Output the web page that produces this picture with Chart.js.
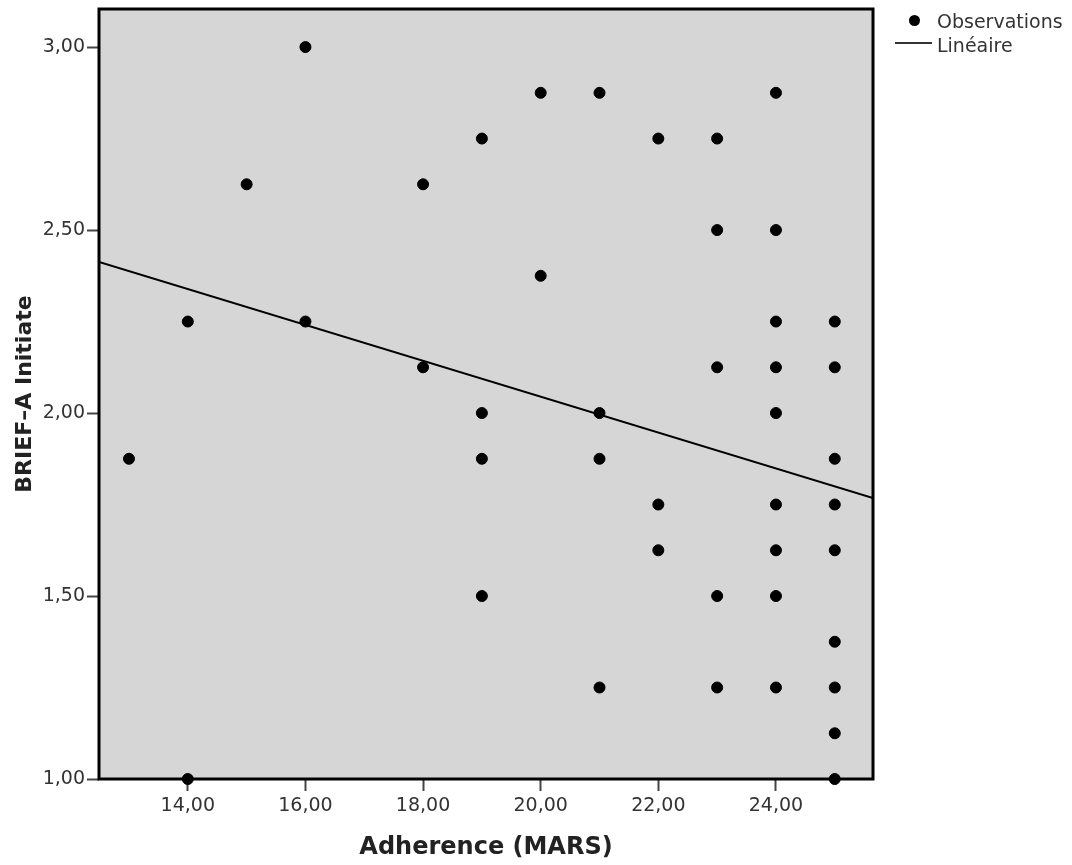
<!DOCTYPE html>
<html>
<head>
<meta charset="utf-8">
<script src="https://cdn.jsdelivr.net/npm/chart.js@4/dist/chart.umd.min.js"></script>
<style>
  body { margin: 0; background: #fff; }
  #wrap { position: relative; width: 1072px; height: 865px; }
  .lg { position: absolute; font-family: "DejaVu Sans", sans-serif; font-size: 19px; color: #333; line-height: 20px; }
</style>
</head>
<body>
<div id="wrap">
  <canvas id="scatterChart"></canvas>
  <div style="position:absolute;left:909px;top:15px;width:11px;height:11px;border-radius:50%;background:#000"></div>
  <div class="lg" style="left:937px;top:11px">Observations</div>
  <div style="position:absolute;left:895px;top:42px;width:37px;height:2px;background:#333"></div>
  <div class="lg" style="left:937px;top:35px">Linéaire</div>
</div>
<script>
// observations (x = MARS score, y = BRIEF-A Initiate)
const obsX = [13, 14, 14, 15, 16, 16, 18, 18, 19, 19, 19, 19, 20, 20,
  21, 21, 21, 21, 22, 22, 22, 23, 23, 23, 23, 23,
  24, 24, 24, 24, 24, 24, 24, 24, 24,
  25, 25, 25, 25, 25, 25, 25, 25, 25];
const obsY = [1.875, 2.25, 1.00, 2.625, 3.00, 2.25, 2.625, 2.125, 2.75, 2.00, 1.875, 1.50, 2.875, 2.375,
  2.875, 2.00, 1.875, 1.25, 2.75, 1.75, 1.625, 2.75, 2.50, 2.125, 1.50, 1.25,
  2.875, 2.50, 2.25, 2.125, 2.00, 1.75, 1.625, 1.50, 1.25,
  2.25, 2.125, 1.875, 1.75, 1.625, 1.375, 1.25, 1.125, 1.00];

// fitted line, ends read at the plot edges
const fitX = [12.49, 25.65];
const fitY = [2.413, 1.768];

const xTicks = [14, 16, 18, 20, 22, 24];
const yTicks = [1.0, 1.5, 2.0, 2.5, 3.0];

const fmt = v => Number(v).toFixed(2).replace('.', ',');

// gray background and frame around the plot area
const framePlugin = {
  id: 'frame',
  beforeDatasetsDraw(chart) {
    const { ctx, chartArea: a } = chart;
    ctx.save();
    ctx.fillStyle = '#d6d6d6';
    ctx.fillRect(a.left, a.top, a.right - a.left, a.bottom - a.top);
    ctx.strokeStyle = '#000';
    ctx.lineWidth = 3;
    ctx.strokeRect(a.left, a.top, a.right - a.left, a.bottom - a.top);
    ctx.restore();
  }
};

new Chart(document.getElementById('scatterChart'), {
  type: 'scatter',
  data: {
    datasets: [
      {
        label: 'Observations',
        data: obsX.map((x, i) => ({ x: x, y: obsY[i] })),
        backgroundColor: '#000',
        borderColor: '#000',
        pointRadius: 5.5,
        pointHoverRadius: 5.5,
        clip: false
      },
      {
        label: 'Linéaire',
        type: 'line',
        data: fitX.map((x, i) => ({ x: x, y: fitY[i] })),
        borderColor: '#000',
        borderWidth: 2,
        pointRadius: 0,
        fill: false
      }
    ]
  },
  options: {
    responsive: true,
    maintainAspectRatio: false,
    animation: false,
    layout: { padding: { left: 0, right: 199, top: 9, bottom: 0 } },
    plugins: { legend: { display: false }, tooltip: { enabled: false } },
    scales: {
      x: {
        type: 'linear',
        min: 12.49,
        max: 25.65,
        afterBuildTicks: s => { s.ticks = xTicks.map(v => ({ value: v })); },
        afterFit: s => { s.height = 86; s.paddingLeft = 0; s.paddingRight = 0; },
        grid: { drawOnChartArea: false, drawTicks: true, tickLength: 12, tickColor: '#444', tickWidth: 2 },
        border: { display: false },
        ticks: { callback: fmt, color: '#333', padding: 4, font: { family: 'DejaVu Sans', size: 19 } },
        title: {
          display: true,
          text: 'Adherence (MARS)',
          color: '#222',
          padding: { top: 0, bottom: 3 },
          font: { family: 'DejaVu Sans', size: 24, weight: 'bold' }
        }
      },
      y: {
        min: 1.0,
        max: 3.104,
        afterBuildTicks: s => { s.ticks = yTicks.map(v => ({ value: v })); },
        afterFit: s => { s.width = 99; s.paddingTop = 0; s.paddingBottom = 0; },
        grid: { drawOnChartArea: false, drawTicks: true, tickLength: 12, tickColor: '#444', tickWidth: 2 },
        border: { display: false },
        ticks: { callback: fmt, color: '#333', padding: 2, font: { family: 'DejaVu Sans', size: 19 } },
        title: {
          display: true,
          text: 'BRIEF–A Initiate',
          color: '#222',
          padding: { top: 12, bottom: 0 },
          font: { family: 'DejaVu Sans', size: 22, weight: 'bold' }
        }
      }
    }
  },
  plugins: [framePlugin]
});
</script>
</body>
</html>
